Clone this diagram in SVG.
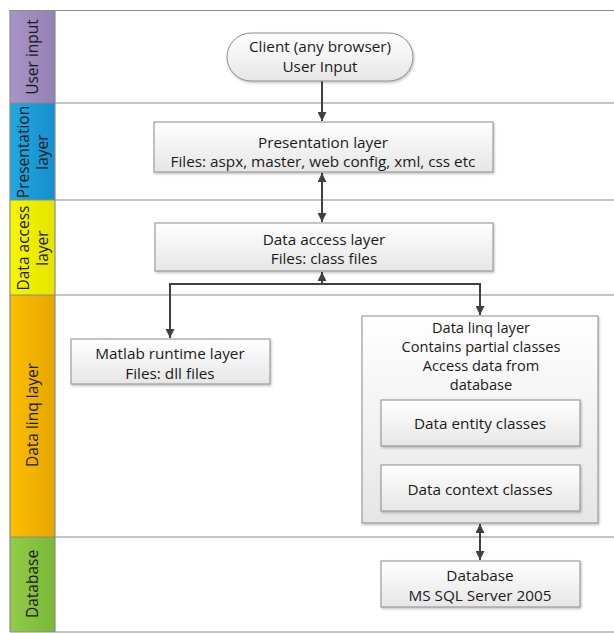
<svg xmlns="http://www.w3.org/2000/svg" width="614" height="633" viewBox="0 0 614 633">
<style>
.sep{stroke:#8a8a8a;stroke-width:1.2;fill:none}
.box{fill:url(#boxg);stroke:#8c8c8c;stroke-width:1;filter:url(#sh)}
.t{font-family:"Open Sans","Noto Sans",sans-serif;font-size:15.3px;fill:#1a1a1a;text-anchor:middle}
.tl{font-family:"Open Sans","Noto Sans",sans-serif;font-size:14.6px;fill:#1a1a1a;text-anchor:middle}
.lt{font-family:"Open Sans","Noto Sans",sans-serif;font-size:15.5px;fill:#1a1a1a;text-anchor:middle}
.c{stroke:#404040;stroke-width:2;fill:none}
</style>
<defs>
<linearGradient id="boxg" x1="0" y1="0" x2="0" y2="1">
<stop offset="0" stop-color="#ffffff"/>
<stop offset="1" stop-color="#e6e6e6"/>
</linearGradient>
<linearGradient id="gPurple" x1="0" y1="0" x2="1" y2="0"><stop offset="0" stop-color="#a894c6"/><stop offset="1" stop-color="#9580b3"/></linearGradient>
<linearGradient id="gBlue" x1="0" y1="0" x2="1" y2="0"><stop offset="0" stop-color="#22a8e0"/><stop offset="1" stop-color="#1590cc"/></linearGradient>
<linearGradient id="gYellow" x1="0" y1="0" x2="1" y2="0"><stop offset="0" stop-color="#f6f600"/><stop offset="1" stop-color="#e4e400"/></linearGradient>
<linearGradient id="gOrange" x1="0" y1="0" x2="1" y2="0"><stop offset="0" stop-color="#fbbf00"/><stop offset="1" stop-color="#e6a600"/></linearGradient>
<linearGradient id="gGreen" x1="0" y1="0" x2="1" y2="0"><stop offset="0" stop-color="#92cc48"/><stop offset="1" stop-color="#7ab838"/></linearGradient>
<filter id="sh" x="-10%" y="-10%" width="120%" height="130%">
<feDropShadow dx="1" dy="1.5" stdDeviation="1" flood-color="#000" flood-opacity="0.25"/>
</filter>
<marker id="ah" viewBox="0 0 10 10" refX="10" refY="5" markerWidth="4.5" markerHeight="4.5" orient="auto-start-reverse" markerUnits="strokeWidth">
<path d="M0,0 L10,5 L0,10 z" fill="#404040"/>
</marker>
</defs>
<rect x="0" y="0" width="614" height="633" fill="#ffffff"/>

<g id="lanes">
<rect x="10" y="10" width="45" height="93" fill="url(#gPurple)"/>
<rect x="10" y="103" width="45" height="97" fill="url(#gBlue)"/>
<rect x="10" y="200" width="45" height="95" fill="url(#gYellow)"/>
<rect x="10" y="295" width="45" height="242" fill="url(#gOrange)"/>
<rect x="10" y="537" width="45" height="95" fill="url(#gGreen)"/>
<line class="sep" x1="10" y1="10.5" x2="614" y2="10.5"/>
<line class="sep" x1="10" y1="103" x2="614" y2="103"/>
<line class="sep" x1="10" y1="200" x2="614" y2="200"/>
<line class="sep" x1="10" y1="295" x2="614" y2="295"/>
<line class="sep" x1="10" y1="537" x2="614" y2="537"/>
<line class="sep" x1="10" y1="632" x2="614" y2="632"/>
<line class="sep" x1="10" y1="10" x2="10" y2="632"/>
<line class="sep" x1="55" y1="10" x2="55" y2="632"/>
<text class="lt" transform="translate(38,57) rotate(-90)">User input</text>
<text class="lt" transform="translate(29,152) rotate(-90)">Presentation</text>
<text class="lt" transform="translate(48,152) rotate(-90)">layer</text>
<text class="lt" transform="translate(29,248) rotate(-90)">Data access</text>
<text class="lt" transform="translate(48,248) rotate(-90)">layer</text>
<text class="lt" transform="translate(38,415) rotate(-90)">Data linq layer</text>
<text class="lt" transform="translate(38,584) rotate(-90)">Database</text>
</g>

<g id="connectors">
<line class="c" x1="322" y1="81" x2="322" y2="121" marker-end="url(#ah)"/>
<line class="c" x1="322" y1="173" x2="322" y2="222" marker-start="url(#ah)" marker-end="url(#ah)"/>
<path class="c" d="M322,284 L322,272" marker-end="url(#ah)"/>
<path class="c" d="M170,338 L170,284 L480,284 L480,315" marker-start="url(#ah)" marker-end="url(#ah)"/>
<line class="c" x1="480" y1="524" x2="480" y2="560" marker-start="url(#ah)" marker-end="url(#ah)"/>
</g>

<g id="client">
<rect class="box" x="227" y="33" width="186" height="48" rx="24" ry="24"/>
<text class="t" x="320" y="52">Client (any browser)</text>
<text class="t" x="320" y="72">User Input</text>
</g>

<g id="presentation">
<rect class="box" x="154" y="122" width="339" height="50"/>
<text class="t" x="323" y="148">Presentation layer</text>
<text class="t" x="323" y="167">Files: aspx, master, web config, xml, css etc</text>
</g>

<g id="dataaccess">
<rect class="box" x="155" y="223" width="338" height="48"/>
<text class="t" x="324" y="245">Data access layer</text>
<text class="t" x="324" y="264">Files: class files</text>
</g>

<g id="matlab">
<rect class="box" x="71" y="339" width="199" height="45"/>
<text class="t" x="170" y="359">Matlab runtime layer</text>
<text class="t" x="170" y="379">Files: dll files</text>
</g>

<g id="datalinq">
<rect class="box" x="362" y="316" width="236" height="207"/>
<text class="tl" x="481" y="333">Data linq layer</text>
<text class="tl" x="481" y="352">Contains partial classes</text>
<text class="tl" x="481" y="371">Access data from</text>
<text class="tl" x="481" y="390">database</text>
</g>

<g id="entity">
<rect class="box" x="381" y="400" width="199" height="46"/>
<text class="t" x="480" y="429">Data entity classes</text>
</g>

<g id="context">
<rect class="box" x="381" y="465" width="199" height="46"/>
<text class="t" x="480" y="495">Data context classes</text>
</g>

<g id="database">
<rect class="box" x="381" y="561" width="199" height="46"/>
<text class="t" x="480" y="581">Database</text>
<text class="t" x="480" y="601">MS SQL Server 2005</text>
</g>
</svg>
